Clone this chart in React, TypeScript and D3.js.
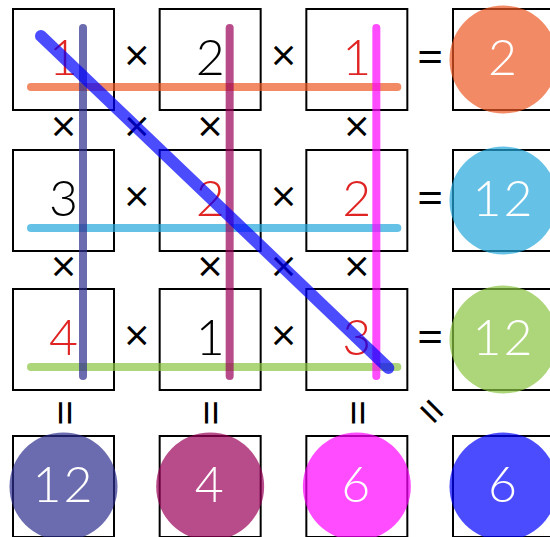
import React, { useRef, useEffect } from 'react';
import * as d3 from 'd3';

// puzzle grid: cell values, which cells are highlighted red, and the products
const gridValues: number[][] = [
  [1, 2, 1],
  [3, 2, 2],
  [4, 1, 3],
];
const redCells: boolean[][] = [
  [true, false, true],
  [false, true, true],
  [true, false, true],
];
const rowProducts = [2, 12, 12];
const colProducts = [12, 4, 6];
const diagProduct = 6;

const rowColors = ['#ec5823', '#24a8db', '#8ac441'];
const colColors = ['#2c2c8d', '#9a0058', '#ff00ff'];
const diagColor = '#0000ff';

const App = () => {
  const svgRef = useRef<SVGSVGElement>(null);

  useEffect(() => {
    document.body.style.margin = '0';
    document.body.style.overflow = 'hidden';

    const width = 550;
    const height = 537;
    const box = 101;
    const font = 'Lato, "Open Sans", sans-serif';
    const opFont = '"Open Sans", sans-serif';

    const svg = d3.select(svgRef.current);
    svg.selectAll('*').remove();
    svg.attr('width', width).attr('height', height);

    // column left edges and row top edges
    const colX = d3.scaleLinear().domain([0, 3]).range([13, 453]);
    const rowY = d3.scaleOrdinal<number, number>().domain([0, 1, 2, 3]).range([9, 150, 289, 436]);
    const cx = (c: number) => colX(c) + box / 2;
    const cy = (r: number) => rowY(r) + box / 2;

    // boxes
    const cells: { r: number; c: number }[] = [];
    for (let r = 0; r < 4; r++) for (let c = 0; c < 4; c++) cells.push({ r, c });
    svg.append('g')
      .selectAll('rect')
      .data(cells)
      .enter().append('rect')
      .attr('x', d => colX(d.c))
      .attr('y', d => rowY(d.r))
      .attr('width', box)
      .attr('height', box)
      .attr('fill', 'none')
      .attr('stroke', '#000')
      .attr('stroke-width', 2);

    // operators
    const ops = svg.append('g')
      .attr('font-family', opFont)
      .attr('font-weight', 400)
      .attr('text-anchor', 'middle')
      .attr('fill', '#000');

    const addOp = (x: number, y: number, s: string, rot = 0, size = 44) => {
      ops.append('text')
        .attr('transform', `translate(${x},${y}) rotate(${rot})`)
        .attr('dy', '0.3em')
        .attr('font-size', size)
        .text(s);
    };

    const gapX = (c: number) => (colX(c) + box + colX(c + 1)) / 2;
    const gapY = (r: number) => (rowY(r) + box + rowY(r + 1)) / 2;

    for (let r = 0; r < 3; r++) {
      addOp(gapX(0), cy(r) - 2, '×');
      addOp(gapX(1), cy(r) - 2, '×');
      addOp(gapX(2), cy(r), '=', 0, 46);
    }
    for (let r = 0; r < 2; r++) {
      for (let c = 0; c < 3; c++) addOp(cx(c), gapY(r) - 1, '×');
      addOp(gapX(r), gapY(r) - 1, '×');
    }
    for (let c = 0; c < 3; c++) addOp(cx(c) - 1, gapY(2), '=', 90, 46);
    addOp(gapX(2), gapY(2), '=', 45, 46);

    // cell digits
    const digits = svg.append('g')
      .attr('font-family', font)
      .attr('font-weight', 300)
      .attr('font-size', 50)
      .attr('text-anchor', 'middle');
    gridValues.forEach((row, r) => row.forEach((v, c) => {
      digits.append('text')
        .attr('x', cx(c))
        .attr('y', cy(r) + 15)
        .attr('fill', redCells[r][c] ? '#e02424' : '#000')
        .text(v);
    }));

    // lines
    const lines = svg.append('g')
      .attr('fill', 'none')
      .attr('stroke-linecap', 'round')
      .attr('stroke-opacity', 0.7);
    rowColors.forEach((col, r) => {
      lines.append('line')
        .attr('x1', colX(0) + 18).attr('x2', colX(2) + box - 10)
        .attr('y1', rowY(r) + 78).attr('y2', rowY(r) + 78)
        .attr('stroke', col).attr('stroke-width', 8);
    });
    colColors.forEach((col, c) => {
      lines.append('line')
        .attr('x1', colX(c) + 70).attr('x2', colX(c) + 70)
        .attr('y1', rowY(0) + 19).attr('y2', rowY(2) + box - 14)
        .attr('stroke', col).attr('stroke-width', 8);
    });
    lines.append('line')
      .attr('x1', colX(0) + 28).attr('y1', rowY(0) + 27)
      .attr('x2', colX(2) + 82).attr('y2', rowY(2) + 79)
      .attr('stroke', diagColor).attr('stroke-width', 12);

    // result circles
    const results = [
      ...rowProducts.map((v, r) => ({ v, r, c: 3, color: rowColors[r] })),
      ...colProducts.map((v, c) => ({ v, r: 3, c, color: colColors[c] })),
      { v: diagProduct, r: 3, c: 3, color: diagColor },
    ];
    const res = svg.append('g')
      .selectAll('g')
      .data(results)
      .enter().append('g')
      .attr('transform', d => `translate(${cx(d.c)},${cy(d.r)})`);
    res.append('circle')
      .attr('r', 54)
      .attr('fill', d => d.color)
      .attr('fill-opacity', 0.7);
    res.append('text')
      .attr('y', 15)
      .attr('text-anchor', 'middle')
      .attr('font-family', font)
      .attr('font-weight', 300)
      .attr('font-size', 50)
      .attr('letter-spacing', 2)
      .attr('fill', '#fff')
      .text(d => d.v);
  }, []);

  return <svg ref={svgRef} style={{ position: 'absolute', left: 0, top: 0 }}></svg>;
};

export default App;
